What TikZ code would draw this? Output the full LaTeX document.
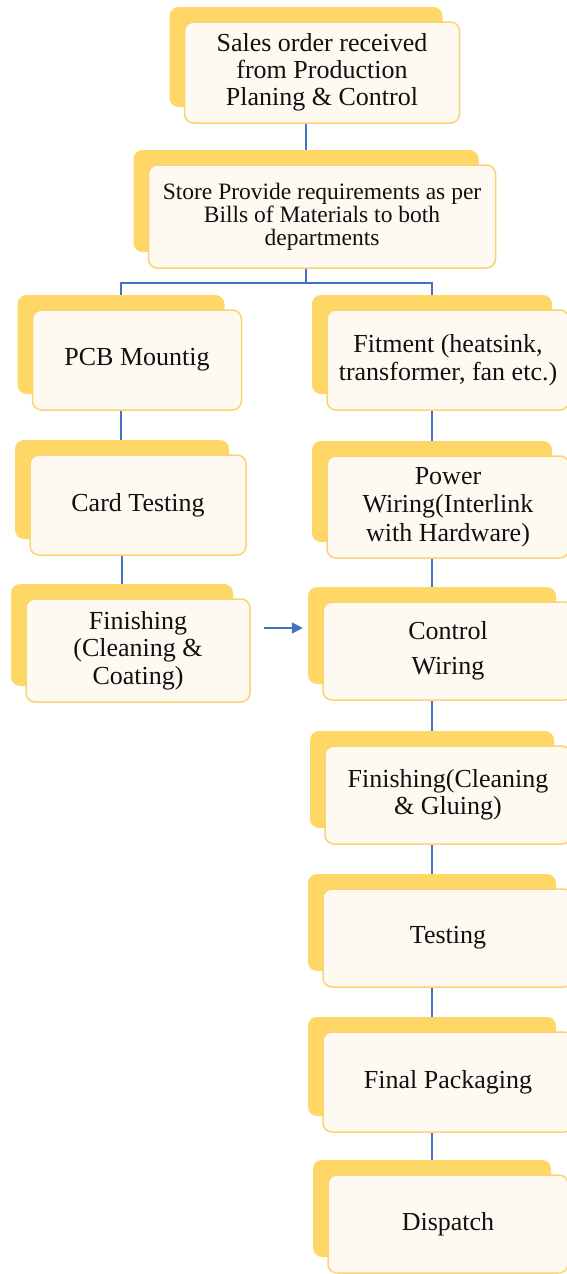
\documentclass[tikz,border=0pt]{standalone}
\usepackage{fontspec}
\setmainfont{Liberation Serif}
\usetikzlibrary{arrows.meta}

\definecolor{backgold}{HTML}{FFD766}
\definecolor{frontedge}{HTML}{FAD373}
\definecolor{frontfill}{HTML}{FFFAF1}
\definecolor{linkblue}{HTML}{4472C4}
\definecolor{inktext}{HTML}{101010}

\begin{document}
\begin{tikzpicture}[x=1pt, y=-1pt,
    backbox/.style={fill=backgold, rounded corners=9pt, inner sep=0pt},
    frontbox/.style={draw=frontedge, fill=frontfill, line width=1.5pt, rounded corners=9pt,
                     inner sep=0pt, align=center, text=inktext},
    link/.style={draw=linkblue, line width=2pt}]

 \useasboundingbox (0,0) rectangle (567,1274);
 \clip (0,0) rectangle (567,1274);

 	\def\sx{16};
 	\def\sy{15.5};

	%draw boxes
    \foreach \name/\cx/\cy/\bw/\bh/\fsz/\lsk/\txt in {
        top/322/72.5/275/101/26/27/{Sales order received\\from Production\\Planing \& Control},
        store/322/216.5/347/103/23.5/23/{Store Provide requirements as per\\Bills of Materials to both\\departments},
        pcb/137/360/209/100/26/27/{PCB Mountig},
        fit/448/360/242/100/26/28/{Fitment (heatsink,\\transformer, fan etc.)},
        card/138/505/216/100/26/27/{Card Testing},
        power/448/507/242/102/26/28.5/{Power\\Wiring(Interlink\\with Hardware)},
        finL/138/650.5/224/103/26/27.5/{Finishing\\(Cleaning \&\\Coating)},
        ctrl/448/651/250/98/26/35/{Control\\Wiring},
        finR/448/795/246/98/26/26.5/{Finishing(Cleaning\\\& Gluing)},
        test/448/938/250/98/26/27/{Testing},
        pack/448/1082/250/100/26/27/{Final Packaging},
        disp/448/1224/240/98/26/27/{Dispatch}}{
        \node[backbox, minimum width=\bw-2, minimum height=\bh-1] (\name-b) at (\cx-\sx, \cy-\sy) {};
        \node[frontbox, minimum width=\bw, minimum height=\bh, font=\fontsize{\fsz}{\lsk}\selectfont] (\name) at (\cx, \cy) {\txt};
    }

	%links
 \draw[link] (top-b.south |- top.south) -- (top-b.south |- store-b.north);
 \draw[link] (store-b.south |- store.south) -- ++(0,14) coordinate (split);
 \draw[link] (split) -| (pcb-b.north);
 \draw[link] (split) -| (fit-b.north);

    \foreach \up/\down in {pcb/card,card/finL,fit/power,power/ctrl,ctrl/finR,finR/test,test/pack,pack/disp}{
        \draw[link] (\up-b.south |- \up.south) -- (\up-b.south |- \down-b.north);
    }

	%cross arrow
 \path ([xshift=13pt, yshift=22.5pt]finL.east) coordinate (arr);
 \draw[link, -{Triangle[length=11pt, width=11pt]}, shorten >=5pt] (arr) -- (arr -| ctrl-b.west);

\end{tikzpicture}
\end{document}
